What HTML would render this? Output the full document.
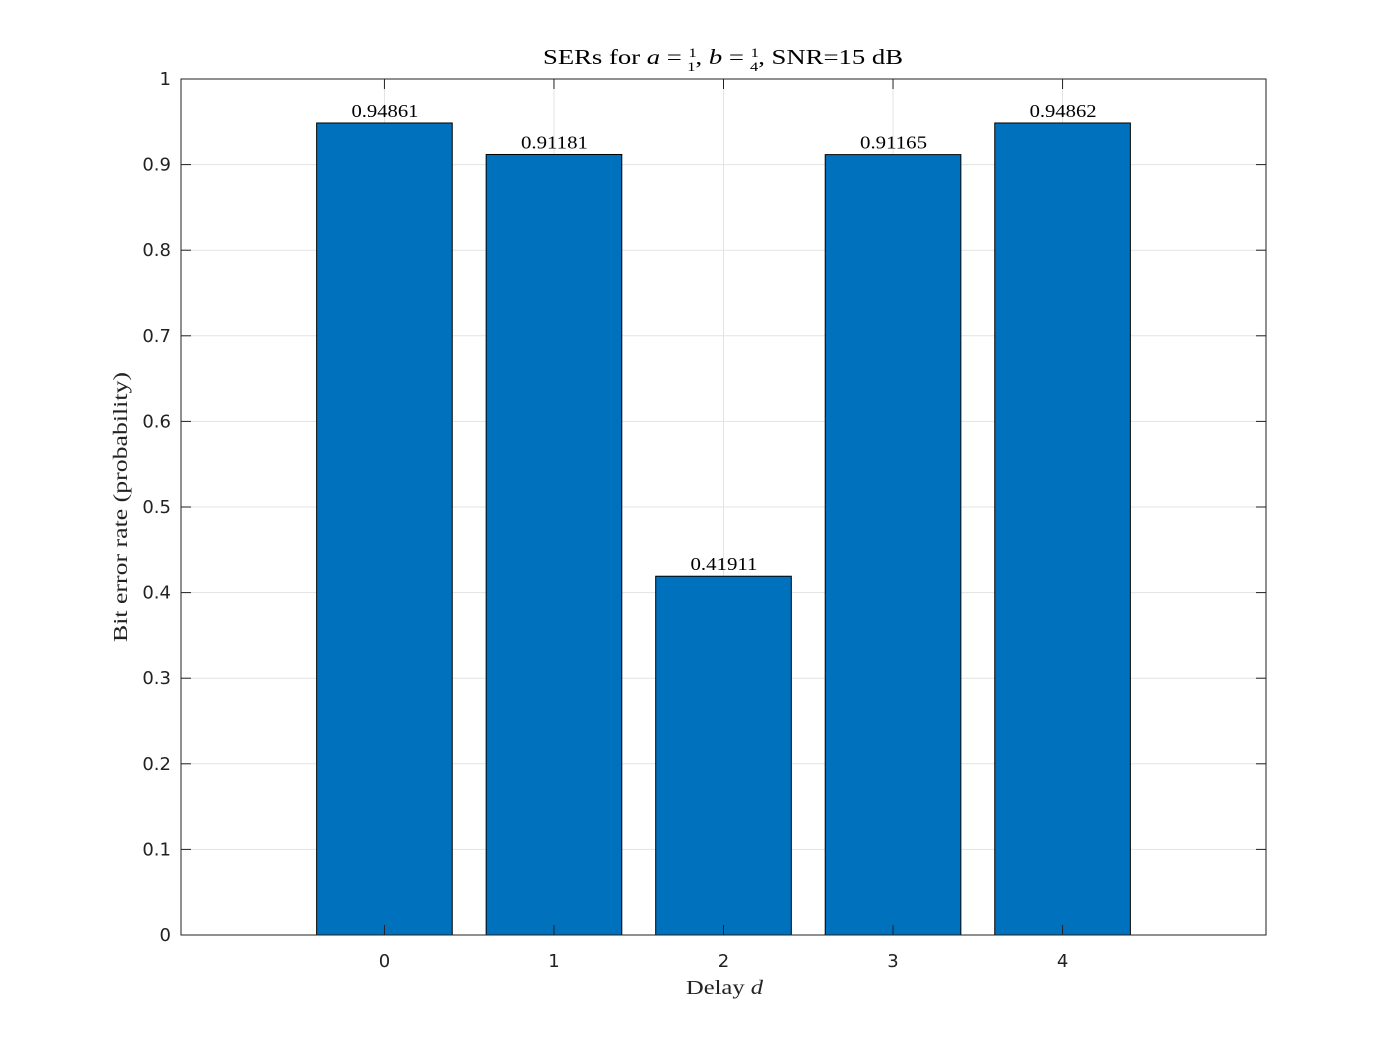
<!DOCTYPE html>
<html><head><meta charset="utf-8"><style>
body{margin:0;background:#fff;}
svg{display:block}
</style></head><body>
<svg id="chart" width="1400" height="1050" xmlns="http://www.w3.org/2000/svg">
<rect x="0" y="0" width="1400" height="1050" fill="#fff"/>
<g id="grid"></g>
<g id="bars"></g>
<g id="axes"></g>
<text x="543" y="64" textLength="360" lengthAdjust="spacingAndGlyphs" font-family="Liberation Serif, serif" font-size="21" fill="#000">SERs for <tspan font-style="italic">a</tspan> = <tspan font-size="13" dy="-7">1</tspan><tspan font-size="13" dx="-7" dy="14">1</tspan><tspan dy="-7">, </tspan><tspan font-style="italic">b</tspan> = <tspan font-size="13" dy="-7">1</tspan><tspan font-size="13" dx="-7" dy="14">4</tspan><tspan dy="-7">, SNR=15 dB</tspan></text>
<text x="686" y="994" textLength="77" lengthAdjust="spacingAndGlyphs" font-family="Liberation Serif, serif" font-size="20" fill="#222">Delay <tspan font-style="italic">d</tspan></text>
<text transform="translate(127,642) rotate(-90)" textLength="270" lengthAdjust="spacingAndGlyphs" font-family="Liberation Serif, serif" font-size="20" fill="#222">Bit error rate (probability)</text>
</svg>
<script>
const categories=[0,1,2,3,4];
const values=[0.94861,0.91181,0.41911,0.91165,0.94862];
const labels=["0.94861","0.91181","0.41911","0.91165","0.94862"];
const yTicks=[0,0.1,0.2,0.3,0.4,0.5,0.6,0.7,0.8,0.9,1];
const yTickLabels=["0","0.1","0.2","0.3","0.4","0.5","0.6","0.7","0.8","0.9","1"];
const NS="http://www.w3.org/2000/svg";
const L=181,R=1266,T=79,B=935,xmin=-1.2,xmax=5.2;
const xs=v=>L+(v-xmin)/(xmax-xmin)*(R-L);
const ys=v=>B-v*(B-T);
function mk(tag,attrs,parent){const e=document.createElementNS(NS,tag);for(const k in attrs)e.setAttribute(k,attrs[k]);parent.appendChild(e);return e;}
const grid=document.getElementById('grid'),bars=document.getElementById('bars'),axes=document.getElementById('axes');
yTicks.forEach((t,i)=>{
 const g=mk('line',{x1:L,x2:R,y1:ys(t),y2:ys(t),stroke:'#e3e3e3','stroke-width':1},grid);
 
 
 mk('line',{x1:L,x2:L+10,y1:ys(t),y2:ys(t),stroke:'#222'},axes);
 mk('line',{x1:R,x2:R-10,y1:ys(t),y2:ys(t),stroke:'#222'},axes);
 const tx=mk('text',{x:L-10,y:ys(t)+6,'text-anchor':'end','font-family':'DejaVu Sans, sans-serif','font-size':18,fill:'#222'},axes);
 tx.textContent=yTickLabels[i];
 
 
});
categories.forEach((c,i)=>{
 const g=mk('line',{x1:xs(c),x2:xs(c),y1:T,y2:B,stroke:'#e3e3e3'},grid);
 
 
 const w=0.8*(R-L)/(xmax-xmin);
 const b=mk('rect',{x:xs(c)-w/2,y:ys(values[i]),width:w,height:B-ys(values[i]),fill:'#0072bd',stroke:'#000','stroke-width':1},bars);
 
 
 const lb=mk('text',{x:xs(c)-33,y:ys(values[i])-6,textLength:67,lengthAdjust:'spacingAndGlyphs','font-family':'Liberation Serif, serif','font-size':18,fill:'#000'},bars);
 lb.textContent=labels[i];
 
 
 mk('line',{x1:xs(c),x2:xs(c),y1:B,y2:B-10,stroke:'#222'},axes);
 mk('line',{x1:xs(c),x2:xs(c),y1:T,y2:T+10,stroke:'#222'},axes);
 const tx=mk('text',{x:xs(c),y:B+32,'text-anchor':'middle','font-family':'DejaVu Sans, sans-serif','font-size':18,fill:'#222'},axes);
 tx.textContent=String(c);
 
 
});
const box=mk('rect',{x:L,y:T,width:R-L,height:B-T,fill:'none',stroke:'#222','stroke-width':1},axes);


</script>
</body></html>
